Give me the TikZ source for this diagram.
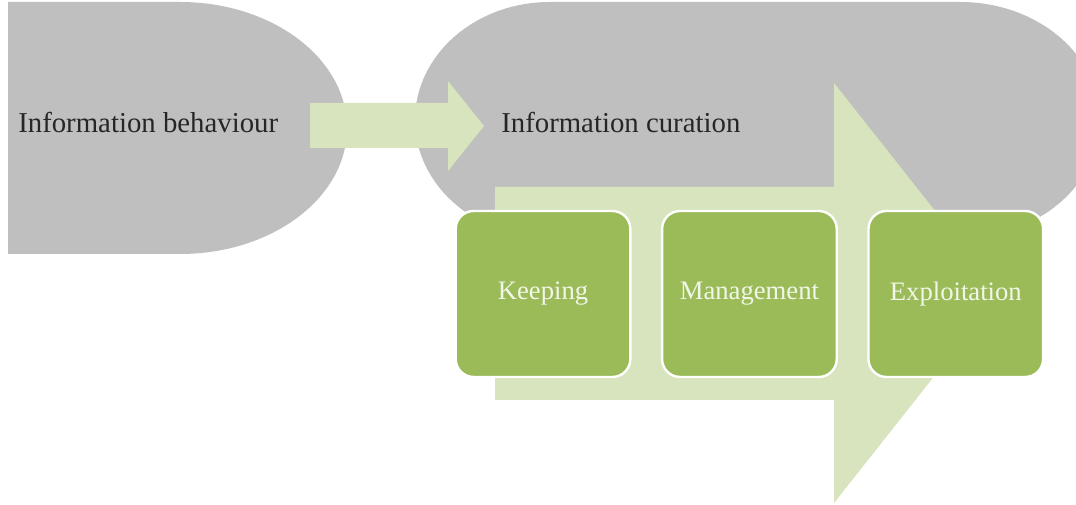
\documentclass[tikz,border=0pt]{standalone}
\usepackage{fontspec}
\setmainfont{Liberation Serif}
\usetikzlibrary{positioning}
\definecolor{curgrey}{HTML}{BFBFBF}
\definecolor{paleleaf}{HTML}{D7E4BD}
\definecolor{leaf}{HTML}{9BBB59}
\definecolor{inkgrey}{HTML}{262626}
\definecolor{leaftext}{HTML}{F2F6E8}
\tikzset{
  blob/.style={fill=curgrey},
  flow/.style={fill=paleleaf},
  stage/.style={rectangle, rounded corners=13.5pt, fill=leaf, draw=white, line width=1.8pt,
    minimum width=131pt, minimum height=124.5pt, text=leaftext, font=\fontsize{20}{24}\selectfont},
  title/.style={anchor=base west, text=inkgrey, inner sep=0pt, font=\fontsize{21.6}{26}\selectfont},
}

\begin{document}
\begin{tikzpicture}[x=0.75pt,y=0.75pt]
\useasboundingbox (0,0) rectangle (1076,505);
\fill[white] (0,0) rectangle (1076,505);
\clip (0,0) rectangle (1076,505);

\fill[blob] (8,503) -- (180,503) arc[start angle=90,end angle=-90,x radius=167,y radius=126] -- (8,251) -- cycle;
\fill[blob] (550,503) -- (960,503) arc[start angle=90,end angle=-90,x radius=140,y radius=118]
  -- (550,267) arc[start angle=270,end angle=90,x radius=135,y radius=118] -- cycle;

\fill[flow] (310,357) -- (448,357) -- (448,334) -- (484,379) -- (448,424) -- (448,402) -- (310,402) -- cycle;
\fill[flow] (495,105) -- (834,105) -- (834,2) -- (1000,212) -- (834,422) -- (834,318) -- (495,318) -- cycle;

\node[title] (behav) at (18,372) {Information behaviour};
\node[title] (curat) at (501,372) {Information curation};

\node[stage] (keep) at (543,211) {Keeping};
\node[stage, right=22pt of keep] (manage) {Management};
\node[stage, right=22pt of manage] (exploit) {Exploitation};

\end{tikzpicture}
\end{document}
